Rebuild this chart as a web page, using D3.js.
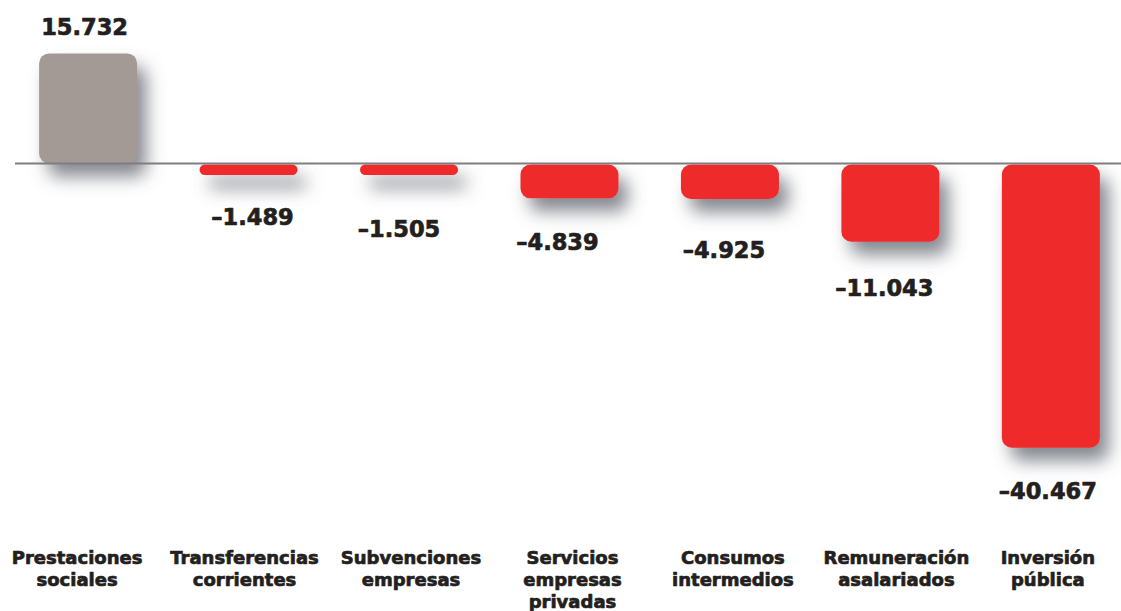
<!DOCTYPE html>
<html>
<head>
<meta charset="utf-8">
<script src="https://cdn.jsdelivr.net/npm/d3@7"></script>
<style>
  html, body { margin: 0; padding: 0; background: #ffffff; }
  svg { display: block; }
  text { font-family: "DejaVu Sans", sans-serif; font-weight: bold; fill: #231f20; stroke: #231f20; stroke-width: 0.7px; stroke-linejoin: round; }
</style>
</head>
<body>
<svg id="chart" width="1121" height="611"></svg>
<script>
// ---- data ----
const categories = [
  ["Prestaciones", "sociales"],
  ["Transferencias", "corrientes"],
  ["Subvenciones", "empresas"],
  ["Servicios", "empresas", "privadas"],
  ["Consumos", "intermedios"],
  ["Remuneración", "asalariados"],
  ["Inversión", "pública"]
];
const values = [15732, -1489, -1505, -4839, -4925, -11043, -40467];

// ---- layout (not data) ----
const W = 1121, H = 611;
const valueLabelDx = [-3.5, 4, -10, -12, -6, -6, -3];
const valueLabelDy = [0, -4, 8, -2, 5, 0, -3];
const catLabelDx = [-11, -4, 2, 3, 3, 6, -3];

const svg = d3.select("#chart");

const locale = d3.formatLocale({ decimal: ",", thousands: ".", grouping: [3], currency: ["", "€"], minus: "–" });
const fmt = locale.format(",d");

const keys = categories.map((c, i) => i);
const step = 160.46, bw = 98;
const pInner = 1 - bw / step;
const r0 = 88.1 - step / 2;
const x = d3.scaleBand()
  .domain(keys)
  .range([r0, r0 + step * keys.length])
  .paddingInner(pInner)
  .paddingOuter(pInner / 2);

const pxPerUnit = 7.0 / 1000;
const zeroY = 163.5;
const y = d3.scaleLinear()
  .domain([-45000, 20000])
  .range([zeroY + 45000 * pxPerUnit, zeroY - 20000 * pxPerUnit]);

// shadow filter
const defs = svg.append("defs");
const f = defs.append("filter").attr("id", "shadow")
  .attr("filterUnits", "userSpaceOnUse")
  .attr("x", 0).attr("y", 0).attr("width", W).attr("height", H);
f.append("feDropShadow")
  .attr("dx", 9).attr("dy", 13).attr("stdDeviation", 9)
  .attr("flood-color", "#5c6069").attr("flood-opacity", 0.75);

// bars
const bars = svg.append("g");
values.forEach((v, i) => {
  const top = v >= 0 ? y(v) : y(0) + 1;
  const bottom = v >= 0 ? y(0) : y(v) + 1;
  const h = bottom - top;
  const r = Math.min(10, h / 2);
  bars.append("rect")
    .attr("x", x(i))
    .attr("y", top)
    .attr("width", x.bandwidth())
    .attr("height", h)
    .attr("rx", r).attr("ry", r)
    .attr("fill", v >= 0 ? "#a39a96" : "#ee2a29")
    .attr("filter", "url(#shadow)");
});

// zero line
svg.append("line")
  .attr("x1", 15).attr("x2", W)
  .attr("y1", y(0)).attr("y2", y(0))
  .attr("stroke", "#7e7e80").attr("stroke-width", 2);

// value labels
const vl = svg.append("g");
values.forEach((v, i) => {
  const cx = x(i) + x.bandwidth() / 2 + valueLabelDx[i];
  const ty = v >= 0 ? y(v) - 18.5 : y(v) + 55 + valueLabelDy[i];
  vl.append("text")
    .attr("x", cx).attr("y", ty)
    .attr("text-anchor", "middle")
    .attr("font-size", 22.5)
    .text(fmt(v));
});

// category labels
const cl = svg.append("g");
categories.forEach((lines, i) => {
  const cx = x(i) + x.bandwidth() / 2 + catLabelDx[i];
  const t = cl.append("text")
    .attr("x", cx).attr("y", 564)
    .attr("text-anchor", "middle")
    .attr("font-size", 18);
  lines.forEach((ln, j) => {
    t.append("tspan").attr("x", cx).attr("y", 564 + j * 22).text(ln);
  });
});
</script>
</body>
</html>
